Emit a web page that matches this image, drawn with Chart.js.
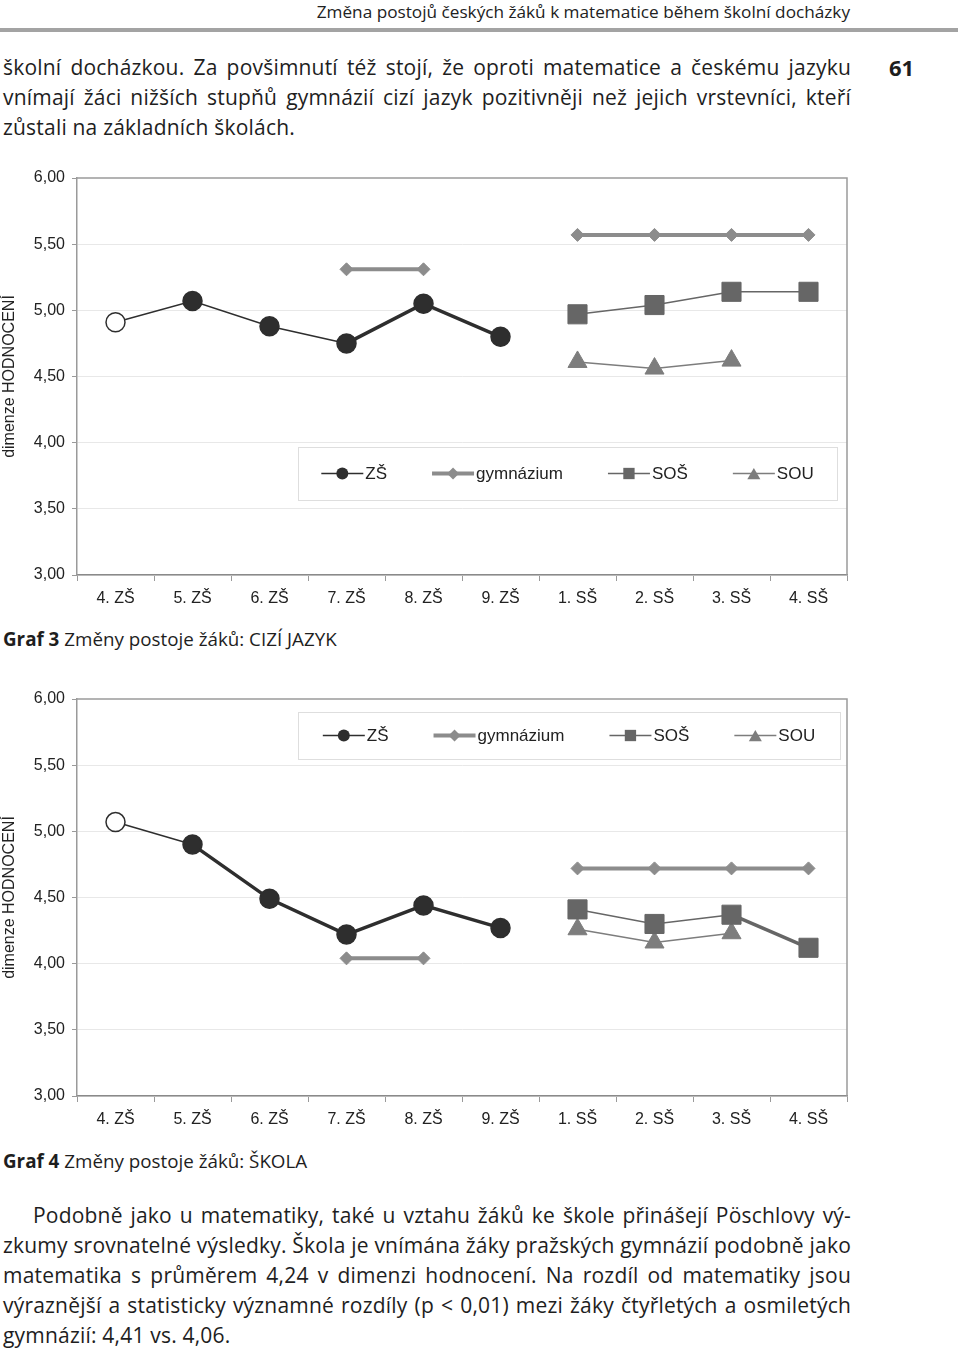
<!DOCTYPE html>
<html lang="cs">
<head>
<meta charset="utf-8">
<script src="https://cdn.jsdelivr.net/npm/chart.js@4/dist/chart.umd.min.js"></script>
<style>
  html, body { margin: 0; padding: 0; background: #fff; }
  body { width: 960px; height: 1350px; position: relative; overflow: hidden;
         font-family: "Open Sans", "DejaVu Sans", sans-serif; color: #1e1e1e; }
  .abs { position: absolute; }
  .head { right: 110px; top: 0; font-size: 17.2px; line-height: 24px; color: #222; white-space: nowrap; }
  .rule { left: 0; top: 28px; width: 958px; height: 4px; background: #a3a3a3; }
  .para { left: 3px; width: 848px; font-size: 21px; line-height: 30px; letter-spacing: 0.2px; }
  .para div { white-space: nowrap; }
  .para .j { text-align: justify; text-align-last: justify; }
  .pnum { left: 889px; top: 52px; font-size: 22px; line-height: 30px; font-weight: bold; }
  .cap { left: 3px; font-size: 18.8px; line-height: 24px; white-space: nowrap; }
  .box { left: 0; width: 960px; height: 460px; }
</style>
</head>
<body>
<div class="abs head">Změna postojů českých žáků k matematice během školní docházky</div>
<div class="abs rule"></div>

<div class="abs para" style="top:52px">
  <div class="j">školní docházkou. Za povšimnutí též stojí, že oproti matematice a českému jazyku</div>
  <div class="j">vnímají žáci nižších stupňů gymnázií cizí jazyk pozitivněji než jejich vrstevníci, kteří</div>
  <div>zůstali na základních školách.</div>
</div>
<div class="abs pnum">61</div>

<div class="abs box" style="top:160px"><canvas id="graf3"></canvas></div>
<div class="abs cap" style="top:627px"><b>Graf 3</b> Změny postoje žáků: CIZÍ JAZYK</div>

<div class="abs box" style="top:681px"><canvas id="graf4"></canvas></div>
<div class="abs cap" style="top:1149px"><b>Graf 4</b> Změny postoje žáků: ŠKOLA</div>

<div class="abs para" style="top:1200px">
  <div class="j" style="margin-left:30px">Podobně jako u matematiky, také u vztahu žáků ke škole přinášejí Pöschlovy vý-</div>
  <div class="j">zkumy srovnatelné výsledky. Škola je vnímána žáky pražských gymnázií podobně jako</div>
  <div class="j">matematika s průměrem 4,24 v dimenzi hodnocení. Na rozdíl od matematiky jsou</div>
  <div class="j">výraznější a statisticky významné rozdíly (p &lt; 0,01) mezi žáky čtyřletých a osmiletých</div>
  <div>gymnázií: 4,41 vs. 4,06.</div>
</div>

<script>
// categories on the x axis
const categories = ['4. ZŠ', '5. ZŠ', '6. ZŠ', '7. ZŠ', '8. ZŠ', '9. ZŠ', '1. SŠ', '2. SŠ', '3. SŠ', '4. SŠ'];
const seriesNames = ['ZŠ', 'gymnázium', 'SOŠ', 'SOU'];
const yTickValues = [3, 3.5, 4, 4.5, 5, 5.5, 6];

// Graf 3 - cizí jazyk
const zs3  = [4.91, 5.07, 4.88, 4.75, 5.05, 4.80, null, null, null, null];
const gym3 = [null, null, null, 5.31, 5.31, null, 5.57, 5.57, 5.57, 5.57];
const sos3 = [null, null, null, null, null, null, 4.97, 5.04, 5.14, 5.14];
const sou3 = [null, null, null, null, null, null, 4.61, 4.56, 4.62, null];

// Graf 4 - škola
const zs4  = [5.07, 4.90, 4.49, 4.22, 4.44, 4.27, null, null, null, null];
const gym4 = [null, null, null, 4.04, 4.04, null, 4.72, 4.72, 4.72, 4.72];
const sos4 = [null, null, null, null, null, null, 4.41, 4.30, 4.37, 4.12];
const sou4 = [null, null, null, null, null, null, 4.26, 4.16, 4.23, null];

Chart.defaults.font.family = "'Liberation Sans', Arial, sans-serif";
Chart.defaults.color = '#222';

// series look (colour, marker, widths)
const looks = [
  { color: '#2e2e2e', style: 'circle',   r: 9.5, lw: 1.5, legendR: 6 },
  { color: '#8c8c8c', style: 'rectRot',  r: 6.5, lw: 4,  legendR: 6 },
  { color: '#666666', style: 'rect',     r: 13.5, lw: 1.5, legendR: 8 },
  { color: '#7d7d7d', style: 'triangle', r: 11, lw: 1.5, legendR: 7.5 }
];

// small marker drawer for the legend
function marker(ctx, style, x, y, r) {
  ctx.beginPath();
  if (style === 'circle') {
    ctx.arc(x, y, r, 0, Math.PI * 2);
  } else if (style === 'rectRot') {
    ctx.moveTo(x, y - r); ctx.lineTo(x + r, y); ctx.lineTo(x, y + r); ctx.lineTo(x - r, y);
  } else if (style === 'rect') {
    const s = r * Math.SQRT1_2;
    ctx.rect(x - s, y - s, 2 * s, 2 * s);
  } else {
    ctx.moveTo(x, y - r * 0.75);
    ctx.lineTo(x + r * 0.87, y + r * 0.75);
    ctx.lineTo(x - r * 0.87, y + r * 0.75);
  }
  ctx.closePath();
  ctx.fill();
}

// frame on top/right and the inner legend box
const framePlugin = {
  id: 'frame',
  beforeDatasetsDraw(chart) {
    const a = chart.chartArea, ctx = chart.ctx;
    ctx.save();
    ctx.strokeStyle = '#9a9a9a';
    ctx.lineWidth = 1.5;
    ctx.beginPath();
    ctx.moveTo(a.left, a.top);
    ctx.lineTo(a.right, a.top);
    ctx.lineTo(a.right, a.bottom);
    ctx.stroke();
    ctx.restore();
  },
  afterDraw(chart, args, opts) {
    const ctx = chart.ctx, a = chart.chartArea;
    const bx = opts.x, by = a.top + opts.top, bw = opts.w, bh = opts.h;
    ctx.save();
    ctx.fillStyle = '#fff';
    ctx.fillRect(bx, by, bw, bh);
    ctx.strokeStyle = '#dedede';
    ctx.lineWidth = 1;
    ctx.strokeRect(bx + 0.5, by + 0.5, bw, bh);
    ctx.font = "17px 'Liberation Sans', Arial, sans-serif";
    const lineLen = 42, gap = 2, spacing = 45;
    const ws = seriesNames.map(n => ctx.measureText(n).width);
    const total = ws.reduce((s, w) => s + lineLen + gap + w, 0) + spacing * 3;
    let x = bx + (bw - total) / 2;
    const cy = by + bh / 2;
    ctx.textBaseline = 'middle';
    seriesNames.forEach((name, i) => {
      const lk = looks[i];
      ctx.strokeStyle = lk.color;
      ctx.fillStyle = lk.color;
      ctx.lineWidth = lk.lw;
      ctx.beginPath();
      ctx.moveTo(x, cy);
      ctx.lineTo(x + lineLen, cy);
      ctx.stroke();
      marker(ctx, lk.style, x + lineLen / 2, cy, lk.legendR);
      ctx.fillStyle = '#222';
      ctx.fillText(name, x + lineLen + gap, cy + 1);
      x += lineLen + gap + ws[i] + spacing;
    });
    ctx.restore();
  }
};

function dataset(i, values, thick) {
  const lk = looks[i];
  const bg = values.map((v, k) => (i === 0 && k === 0) ? '#ffffff' : lk.color);
  return {
    label: seriesNames[i],
    data: values,
    borderColor: lk.color,
    backgroundColor: lk.color,
    borderWidth: lk.lw,
    pointStyle: lk.style,
    pointRadius: lk.r,
    pointBackgroundColor: bg,
    pointBorderColor: i === 0 ? '#2e2e2e' : lk.color,
    pointBorderWidth: i === 0 ? 1.5 : 1,
    spanGaps: false,
    segment: thick ? {
      borderWidth: ctx => ctx.p0DataIndex >= thick.from && ctx.p0DataIndex < thick.to ? 3.5 : lk.lw
    } : undefined
  };
}

function makeChart(id, sets, legendPos) {
  new Chart(document.getElementById(id), {
    type: 'line',
    data: { labels: categories, datasets: sets },
    plugins: [framePlugin],
    options: {
      responsive: true,
      maintainAspectRatio: false,
      animation: false,
      events: [],
      layout: { padding: { top: 18, right: 113, left: 0, bottom: 0 } },
      plugins: {
        legend: { display: false },
        tooltip: { enabled: false },
        frame: legendPos
      },
      scales: {
        x: {
          type: 'category',
          offset: true,
          grid: { offset: true, drawOnChartArea: false, tickLength: 6, color: '#9a9a9a' },
          border: { color: '#8a8a8a', width: 1.5 },
          ticks: { font: { size: 16 }, padding: 8, maxRotation: 0, autoSkip: false },
          afterFit: s => { s.height = 45; }
        },
        y: {
          min: 3,
          max: 6,
          afterBuildTicks: s => { s.ticks = yTickValues.map(v => ({ value: v })); },
          ticks: {
            font: { size: 16 },
            padding: 7,
            callback: v => Number(v).toFixed(2).replace('.', ',')
          },
          grid: {
            color: c => (c.tick && c.tick.value === 6) ? 'rgba(0,0,0,0)' : '#e8e8e8',
            tickColor: '#9a9a9a',
            tickLength: 5
          },
          border: { color: '#9a9a9a', width: 1.5 },
          title: { display: true, text: 'dimenze HODNOCENÍ', font: { size: 16 }, padding: { top: 0, bottom: 2 } },
          afterFit: s => { s.width = 77; }
        }
      }
    }
  });
}

makeChart('graf3', [
  dataset(0, zs3, { from: 3, to: 99 }),
  dataset(1, gym3),
  dataset(2, sos3),
  dataset(3, sou3)
], { x: 298, top: 269, w: 539, h: 53 });

makeChart('graf4', [
  dataset(0, zs4, { from: 1, to: 99 }),
  dataset(1, gym4),
  dataset(2, sos4, { from: 8, to: 99 }),
  dataset(3, sou4)
], { x: 298, top: 13, w: 542, h: 47 });
</script>
</body>
</html>
